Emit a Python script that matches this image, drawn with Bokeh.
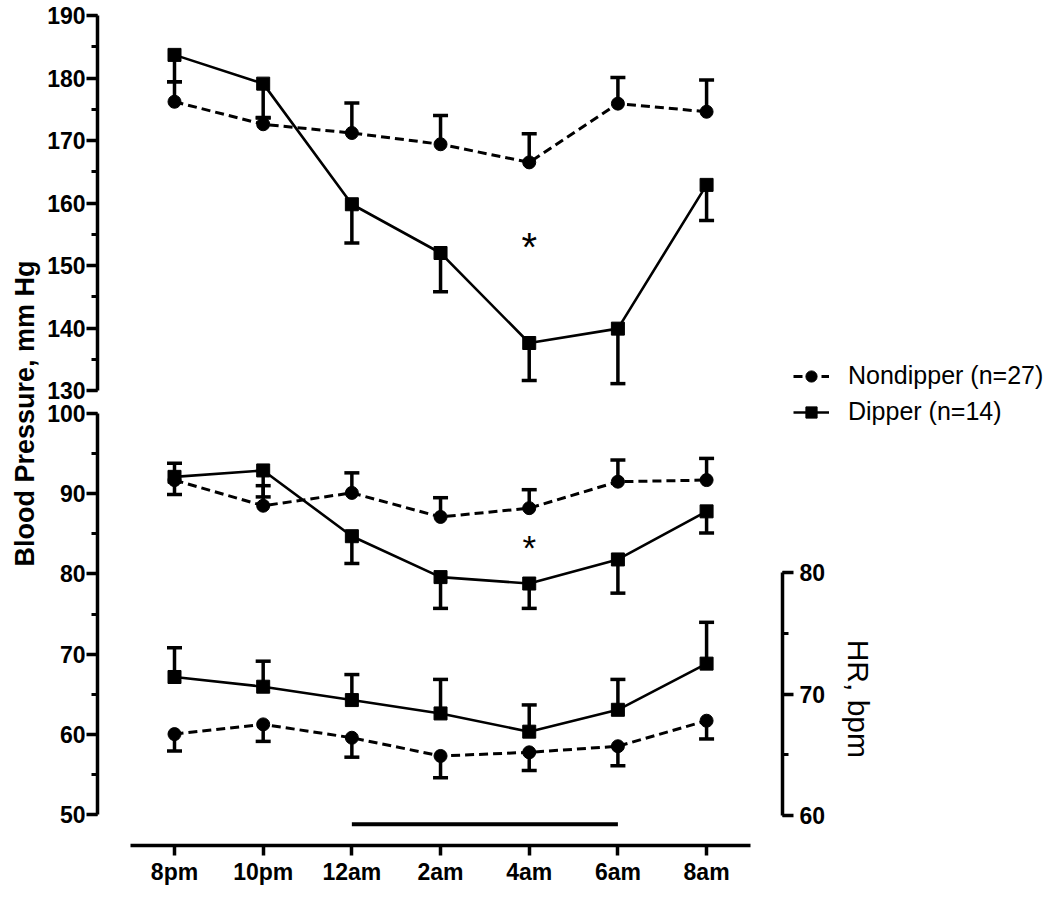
import math
from bokeh.plotting import figure
from bokeh.models import (ColumnDataSource, Range1d, LinearAxis, FixedTicker,
                          SingleIntervalTicker, Whisker, TeeHead, Legend,
                          LegendItem, Label)
from bokeh.core.properties import value
from bokeh.embed import file_html
from bokeh.resources import INLINE

# ---------------- data ----------------
times = ["8pm", "10pm", "12am", "2am", "4am", "6am", "8am"]

# upper panel: systolic blood pressure, mm Hg
sbp_nondipper = [176.2, 172.6, 171.2, 169.4, 166.5, 175.9, 174.6]
sbp_nondipper_sem = [3.2, 1.1, 4.8, 4.6, 4.6, 4.2, 5.1]
sbp_dipper = [183.7, 179.1, 159.8, 152.0, 137.6, 139.9, 162.9]
sbp_dipper_sem = [4.3, 5.5, 6.2, 6.2, 6.0, 8.8, 5.7]

# lower panel: diastolic blood pressure, mm Hg
dbp_nondipper = [91.7, 88.5, 90.1, 87.1, 88.2, 91.5, 91.7]
dbp_nondipper_sem = [2.1, 2.5, 2.5, 2.4, 2.3, 2.7, 2.7]
dbp_dipper = [92.1, 92.9, 84.7, 79.6, 78.8, 81.8, 87.8]
dbp_dipper_sem = [2.2, 3.3, 3.4, 3.9, 3.1, 4.2, 2.7]

# heart rate, bpm (right axis)
hr_nondipper = [66.7, 67.5, 66.4, 64.9, 65.2, 65.7, 67.8]
hr_nondipper_sem = [1.4, 1.4, 1.6, 1.8, 1.5, 1.6, 1.5]
hr_dipper = [71.4, 70.6, 69.5, 68.4, 66.9, 68.7, 72.5]
hr_dipper_sem = [2.4, 2.1, 2.1, 2.8, 2.2, 2.5, 3.4]

night_period = ["12am", "6am"]
significant_times = ["4am"]
sig_sbp_y = [153.0]
sig_dbp_y = [83.3]

labels = ["Nondipper (n=27)", "Dipper (n=14)"]

# ---------------- figure ----------------
FONT = "Liberation Sans"
BLACK = "black"

xi = list(range(len(times)))          # positions of the time points
X0, X1 = -1.9621, 9.8556              # frame spans the whole canvas width

p = figure(width=1048, height=890, output_backend="svg", toolbar_location=None,
           x_range=Range1d(X0, X1), y_range=Range1d(46.135, 151.496),
           min_border_left=0, min_border_right=0,
           min_border_top=0, min_border_bottom=45, y_axis_location=None)
p.extra_y_ranges = {"top": Range1d(57.2, 192.4), "hr": Range1d(57.531, 127.078)}
p.outline_line_color = None
p.grid.visible = False
p.background_fill_color = "white"


def style_axis(ax):
    ax.axis_line_width = 3.5
    ax.axis_line_color = BLACK
    ax.major_tick_line_width = 3.5
    ax.minor_tick_line_width = 3
    ax.major_tick_line_color = BLACK
    ax.minor_tick_line_color = BLACK
    ax.major_tick_in = 0
    ax.minor_tick_in = 0
    ax.major_tick_out = 11
    ax.minor_tick_out = 6
    ax.major_label_text_font = FONT
    ax.major_label_text_font_style = "bold"
    ax.major_label_text_font_size = "23px"
    ax.major_label_text_color = BLACK


# x axis (time of day)
xax = p.xaxis[0]
style_axis(xax)
xax.ticker = FixedTicker(ticks=xi)
xax.major_label_overrides = {i: t for i, t in zip(xi, times)}
xax.bounds = (xi[0] - 0.5, xi[-1] + 0.5)
xax.major_tick_out = 10
xax.major_label_standoff = 3

LEFT_X = -0.868     # left BP axes location (data units of x)
RIGHT_X = 6.856     # HR axis location

# lower-left BP axis
bp_ax = LinearAxis(fixed_location=LEFT_X, bounds=(50, 100),
                   ticker=SingleIntervalTicker(interval=10, num_minor_ticks=2))
style_axis(bp_ax)
bp_ax.major_label_standoff = 1
p.add_layout(bp_ax, "left")

# upper-left BP axis
top_ax = LinearAxis(y_range_name="top", fixed_location=LEFT_X, bounds=(130, 190),
                    ticker=SingleIntervalTicker(interval=10, num_minor_ticks=2))
style_axis(top_ax)
top_ax.major_label_standoff = 1
p.add_layout(top_ax, "left")

# right HR axis
hr_ax = LinearAxis(y_range_name="hr", fixed_location=RIGHT_X, bounds=(60, 80),
                   ticker=SingleIntervalTicker(interval=10, num_minor_ticks=2))
style_axis(hr_ax)
hr_ax.major_label_standoff = 6
p.add_layout(hr_ax, "right")


def series(y, sem, direction, rng, dashed, marker):
    kw = {} if rng is None else {"y_range_name": rng}
    head = TeeHead(size=15, line_width=3.5, line_color=BLACK)
    if direction > 0:
        lower = list(y)
        upper = [a + b for a, b in zip(y, sem)]
        w = Whisker(source=ColumnDataSource(dict(x=xi, lower=lower, upper=upper)),
                    base="x", lower="lower", upper="upper",
                    line_width=3.5, line_color=BLACK, lower_head=None,
                    upper_head=head, **kw)
    else:
        upper = list(y)
        lower = [a - b for a, b in zip(y, sem)]
        w = Whisker(source=ColumnDataSource(dict(x=xi, lower=lower, upper=upper)),
                    base="x", lower="lower", upper="upper",
                    line_width=3.5, line_color=BLACK, upper_head=None,
                    lower_head=head, **kw)
    p.add_layout(w)
    if dashed:
        lr = p.line(xi, y, line_width=3, line_color=BLACK, line_dash="9 5", **kw)
    else:
        lr = p.line(xi, y, line_width=2.6, line_color=BLACK, **kw)
    sr = p.scatter(xi, y, marker=marker, size=13, fill_color=BLACK,
                   line_color=BLACK, **kw)
    return lr, sr


nd1 = series(sbp_nondipper, sbp_nondipper_sem, +1, "top", True, "circle")
d1 = series(sbp_dipper, sbp_dipper_sem, -1, "top", False, "square")
nd2 = series(dbp_nondipper, dbp_nondipper_sem, +1, None, True, "circle")
d2 = series(dbp_dipper, dbp_dipper_sem, -1, None, False, "square")
nd3 = series(hr_nondipper, hr_nondipper_sem, -1, "hr", True, "circle")
d3 = series(hr_dipper, hr_dipper_sem, +1, "hr", False, "square")

# night period bar
p.segment(x0=[times.index(night_period[0])], x1=[times.index(night_period[1])],
          y0=[48.8], y1=[48.8], line_width=4, line_color=BLACK)

# significance asterisks
sig_x = [times.index(t) for t in significant_times]
p.text(x=sig_x, y=sig_sbp_y, text=["*"], y_range_name="top",
       text_font=value(FONT), text_font_size="40px", text_align="center",
       text_baseline="middle", text_color=BLACK)
p.text(x=sig_x, y=sig_dbp_y, text=["*"],
       text_font=value(FONT), text_font_size="35px", text_align="center",
       text_baseline="middle", text_color=BLACK)

# y axis title spanning both panels
p.add_layout(Label(x=-1.69, y=100, text="Blood Pressure, mm Hg", angle=math.pi / 2,
                   text_align="center", text_baseline="middle",
                   text_font=FONT, text_font_style="bold",
                   text_font_size="27px", text_color=BLACK))

# HR axis title
p.add_layout(Label(x=7.71, y=69.6, y_range_name="hr", text="HR, bpm",
                   angle=-math.pi / 2, text_align="center", text_baseline="middle",
                   text_font=FONT, text_font_size="30px", text_color=BLACK))

legend = Legend(items=[LegendItem(label=labels[0], renderers=list(nd1)),
                       LegendItem(label=labels[1], renderers=list(d1))],
                location=(793, 419), border_line_color=None,
                background_fill_alpha=0, padding=0, margin=0, spacing=7,
                glyph_width=36, glyph_height=28, label_height=28,
                label_standoff=19, label_text_font=FONT,
                label_text_font_size="25px", label_text_color=BLACK)
p.add_layout(legend)

open("out.html", "w").write(file_html(p, INLINE))
